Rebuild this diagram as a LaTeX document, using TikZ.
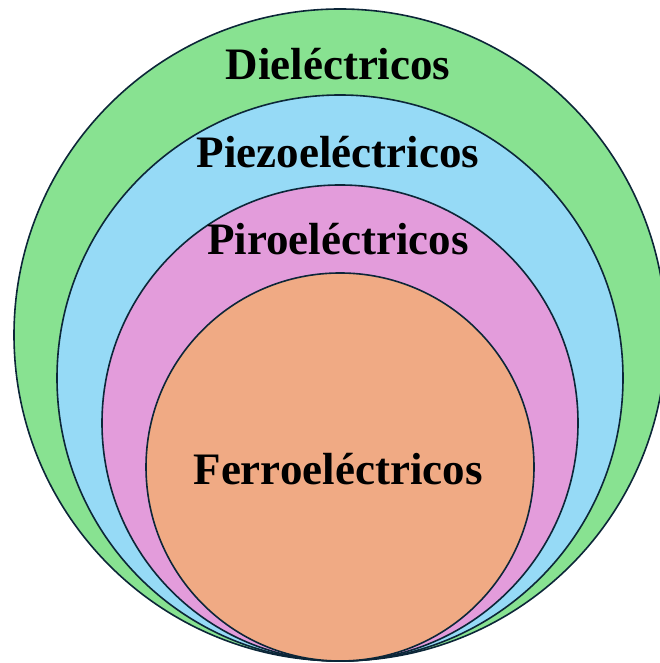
\documentclass[tikz,border=0pt]{standalone}
\usepackage{fontspec}
\setmainfont{Liberation Serif}
\usetikzlibrary{positioning}
\definecolor{dielec}{RGB}{136,226,145}
\definecolor{piezo}{RGB}{150,218,246}
\definecolor{piro}{RGB}{227,156,219}
\definecolor{ferro}{RGB}{240,170,132}
\definecolor{borde}{RGB}{12,38,56}
\tikzset{
  capa/.style={draw=borde, line width=1.6pt},
  rotulo/.style={font=\fontsize{45}{54}\selectfont\bfseries, anchor=base, inner sep=0pt}
}

\begin{document}
\begin{tikzpicture}[x=1pt,y=1pt]
        \useasboundingbox (0,0) rectangle (659,663);
        % Circulos tangentes abajo
        \coordinate (T) at (340,2);
        \draw[capa, fill=dielec] (340,328) circle (326pt);
        \draw[capa, fill=piezo] (340,285) circle (283pt);
        \draw[capa, fill=piro] (340,240) circle (238pt);
        \draw[capa, fill=ferro] (340,196) circle (194pt);
        % Rotulos
        \node[rotulo] (D) at (338,583) {Dieléctricos};
        \node[rotulo] (Pz) at (338,495) {Piezoeléctricos};
        \node[rotulo] (Pr) at (338,408) {Piroeléctricos};
        \node[rotulo] (F) at (338,178) {Ferroeléctricos};
    \end{tikzpicture}
\end{document}
